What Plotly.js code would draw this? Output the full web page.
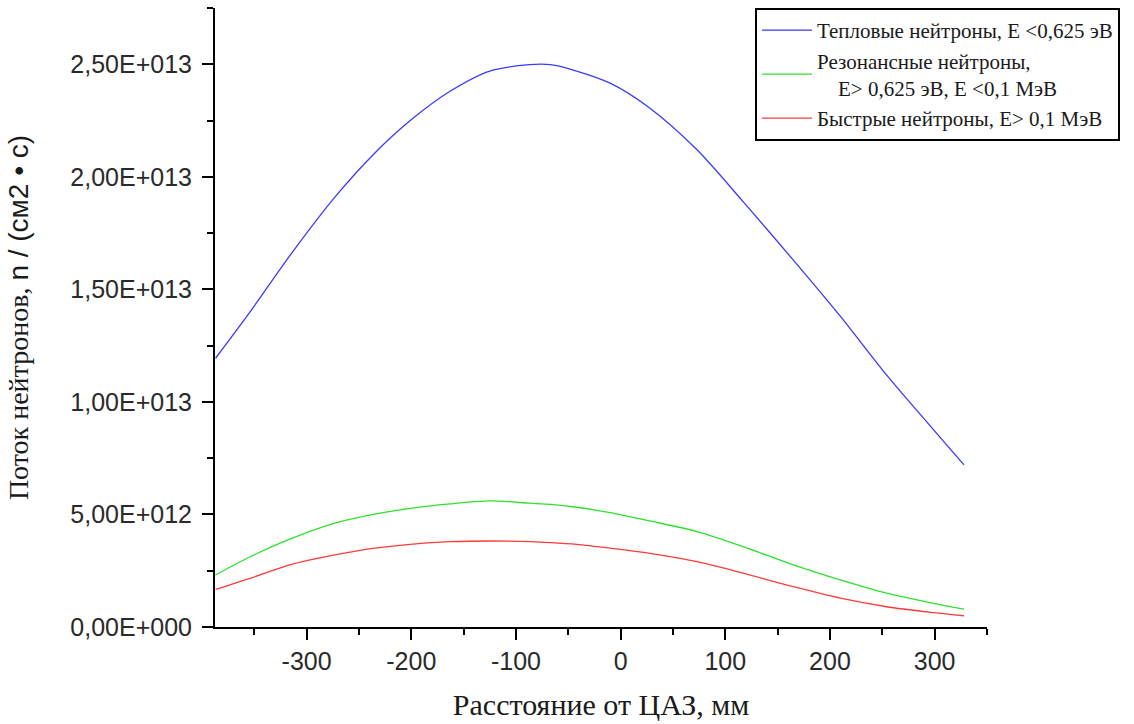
<!DOCTYPE html>
<html>
<head>
<meta charset="utf-8">
<script src="https://cdn.plot.ly/plotly-3.0.1.min.js"></script>
<style>html,body{margin:0;padding:0;background:#fff;}#chart{width:1134px;height:724px;}</style>
</head>
<body>
<div id="chart"></div>
<script>
// Distance from core centre, mm
const distance = [-387, -354, -316, -273, -235, -201, -163, -125, -87, -67, -42, -10, 28, 73, 117, 165, 210, 254, 299, 328];
// Neutron fluxes, n/(cm2*s)
const thermalFlux = [11.94e12, 14.0e12, 16.5e12, 19.1e12, 21.05e12, 22.5e12, 23.8e12, 24.7e12, 24.98e12, 24.98e12, 24.7e12, 24.16e12, 23.05e12, 21.2e12, 18.9e12, 16.3e12, 13.8e12, 11.2e12, 8.76e12, 7.2e12];
const resonanceFlux = [2.31e12, 3.12e12, 3.90e12, 4.61e12, 5.01e12, 5.27e12, 5.47e12, 5.60e12, 5.50e12, 5.45e12, 5.32e12, 5.08e12, 4.71e12, 4.24e12, 3.57e12, 2.76e12, 2.09e12, 1.50e12, 1.05e12, 0.79e12];
const fastFlux = [1.67e12, 2.16e12, 2.76e12, 3.20e12, 3.50e12, 3.67e12, 3.79e12, 3.82e12, 3.79e12, 3.75e12, 3.67e12, 3.50e12, 3.27e12, 2.90e12, 2.39e12, 1.79e12, 1.28e12, 0.90e12, 0.64e12, 0.50e12];

const seriesNames = [
  'Тепловые нейтроны, E <0,625 эВ',
  'Резонансные нейтроны,<br>\u00a0\u00a0\u00a0\u00a0E> 0,625 эВ, E <0,1 МэВ',
  'Быстрые нейтроны, E> 0,1 МэВ'
];

const yTickVals = [0, 5e12, 1e13, 1.5e13, 2e13, 2.5e13];
const yTickText = ['0,00E+000', '5,00E+012', '1,00E+013', '1,50E+013', '2,00E+013', '2,50E+013'];
const xTickVals = [-300, -200, -100, 0, 100, 200, 300];
const xTickText = ['-300', '-200', '-100', '0', '100', '200', '300'];

const serif = '"Liberation Serif", "Times New Roman", serif';
const sans = '"Liberation Sans", Arial, sans-serif';

const traces = [
  {x: distance, y: thermalFlux, name: seriesNames[0], mode: 'lines', line: {color: '#3a3aff', width: 1.3, shape: 'spline', smoothing: 0.8}},
  {x: distance, y: resonanceFlux, name: seriesNames[1], mode: 'lines', line: {color: '#2ee02e', width: 1.3, shape: 'spline', smoothing: 0.8}},
  {x: distance, y: fastFlux, name: seriesNames[2], mode: 'lines', line: {color: '#ff3a3a', width: 1.3, shape: 'spline', smoothing: 0.8}}
];

const layout = {
  width: 1134, height: 724,
  margin: {l: 215, r: 147, t: 8, b: 97},
  paper_bgcolor: '#fff', plot_bgcolor: '#fff',
  showlegend: true,
  legend: {
    x: 0.6995, y: 1, xanchor: 'left', yanchor: 'top',
    bgcolor: '#fff', bordercolor: '#000', borderwidth: 2,
    font: {family: serif, size: 21, color: '#1a1a1a'},
    itemwidth: 50, tracegroupgap: 0
  },
  xaxis: {
    range: [-387.5, 350],
    showgrid: false, zeroline: false,
    showline: true, linecolor: '#000', linewidth: 2,
    ticks: 'outside', ticklen: 11, tickwidth: 2, tickcolor: '#000',
    tickvals: xTickVals, ticktext: xTickText,
    tickfont: {family: sans, size: 25, color: '#2a2a2a'},
    minor: {dtick: 50, ticks: 'outside', ticklen: 6, tickwidth: 2, tickcolor: '#000'},
    title: {text: 'Расстояние от ЦАЗ, мм', font: {family: serif, size: 30, color: '#1a1a1a'}, standoff: 20},
    automargin: false
  },
  yaxis: {
    range: [0, 2.75e13],
    showgrid: false, zeroline: false,
    showline: true, linecolor: '#000', linewidth: 2,
    ticks: 'outside', ticklen: 11, tickwidth: 2, tickcolor: '#000',
    tickvals: yTickVals, ticktext: yTickText,
    tickfont: {family: sans, size: 25, color: '#2a2a2a'},
    ticklabelstandoff: 5,
    minor: {dtick: 2.5e12, ticks: 'outside', ticklen: 6, tickwidth: 2, tickcolor: '#000'},
    title: {text: '\u00a0\u00a0\u00a0\u00a0\u00a0\u00a0Поток нейтронов, <span style="font-family:Liberation Sans, Arial, sans-serif">n / (см2 • с)</span>', font: {family: serif, size: 28, color: '#1a1a1a'}, standoff: 34},
    automargin: false
  }
};

Plotly.newPlot('chart', traces, layout, {displayModeBar: false, staticPlot: true});
</script>
</body>
</html>
